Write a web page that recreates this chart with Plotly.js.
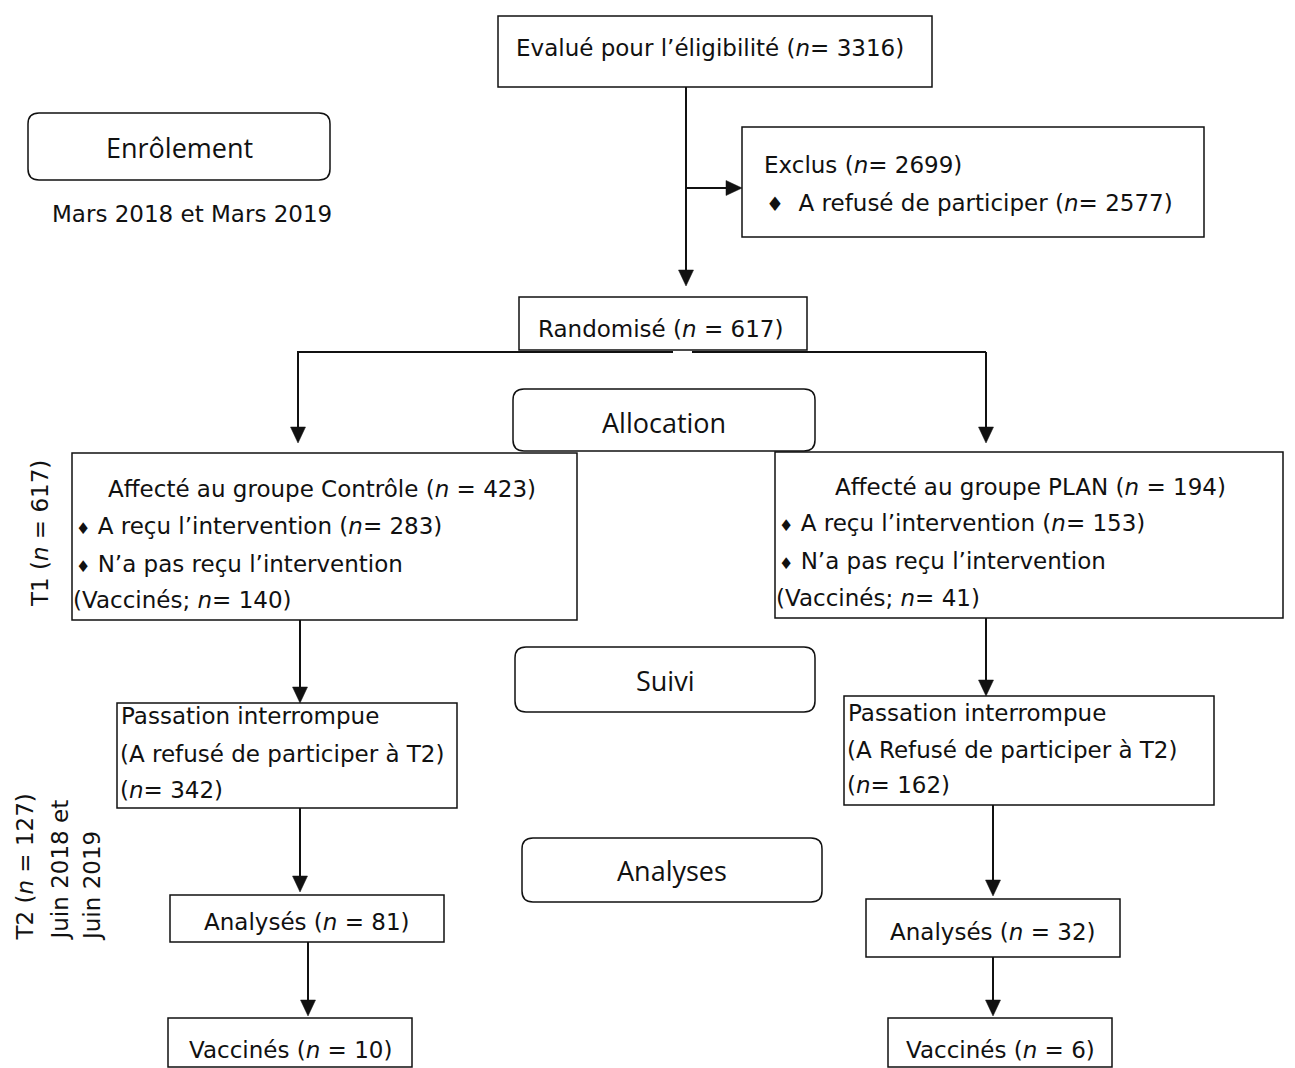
<!DOCTYPE html>
<html><head><meta charset="utf-8">
<script src="https://cdn.plot.ly/plotly-3.0.1.min.js"></script>
<style>html,body{margin:0;padding:0;background:#fff}</style>
</head><body><div id="chart" style="width:1295px;height:1068px"></div>
<script>
// ---------------- data ----------------
const stageLabels = ["Enrôlement", "Allocation", "Suivi", "Analyses"];
const enrolmentPeriod = "Mars 2018 et Mars 2019";
const eligibleN = 3316;
const excludedN = 2699;
const refusedN = 2577;
const randomisedN = 617;
const groupNames = ["Contrôle", "PLAN"];
const allocatedN = [423, 194];
const receivedN = [283, 153];
const vaccinatedT1N = [140, 41];
const droppedN = [342, 162];
const refusedT2Labels = ["(A refusé de participer à T2)", "(A Refusé de participer à T2)"];
const analysedN = [81, 32];
const vaccinatedT2N = [10, 6];
const timepointLabels = ["T1", "T2"];
const timepointN = [617, 127];
const followUpPeriod = ["Juin 2018 et", "Juin 2019"];

// ---------------- layout geometry (pixel space) ----------------
const W = 1295, H = 1068;
const FONT = "DejaVu Sans, Arial, sans-serif";
const FONT2 = "Open Sans, Noto Sans, sans-serif";
const FS = 23;
const INK = "#111";
const geo = {
  eligible: [498, 932, 16, 87],
  excluded: [742, 1204, 127, 237],
  randomised: [519, 807, 297, 350],
  alloc: [[72, 577, 453, 620], [775, 1283, 452, 618]],
  drop: [[117, 457, 703, 808], [844, 1214, 696, 805]],
  anal: [[170, 444, 895, 942], [866, 1120, 899, 957]],
  vacc: [[168, 412, 1018, 1067], [888, 1112, 1018, 1067]],
  stages: [[28, 330, 113, 180], [513, 815, 389, 451], [515, 815, 647, 712], [522, 822, 838, 902]]
};

const shapes = [];
const annotations = [];
const it = '<i>n</i>';
const dia = (s) => '<span style="font-size:' + s + 'px">\u2666</span>';

function rect(b, lw) {
  shapes.push({type: 'rect', xref: 'x', yref: 'y', x0: b[0], x1: b[1], y0: b[2], y1: b[3],
    line: {color: INK, width: lw || 1.5}, fillcolor: 'rgba(255,255,255,0)'});
}
function rrect(b, r) {
  const [x0, x1, y0, y1] = b;
  const p = `M${x0 + r},${y0} H${x1 - r} Q${x1},${y0} ${x1},${y0 + r} V${y1 - r} Q${x1},${y1} ${x1 - r},${y1} H${x0 + r} Q${x0},${y1} ${x0},${y1 - r} V${y0 + r} Q${x0},${y0} ${x0 + r},${y0} Z`;
  shapes.push({type: 'path', xref: 'x', yref: 'y', path: p, line: {color: INK, width: 1.5}, fillcolor: '#fff'});
}
function seg(x0, y0, x1, y1) {
  shapes.push({type: 'line', xref: 'x', yref: 'y', x0, y0, x1, y1, line: {color: INK, width: 2}});
}
function arrow(x0, y0, x1, y1) {
  const L = 16, hw = 7.5;
  const dx = x1 - x0, dy = y1 - y0, d = Math.hypot(dx, dy);
  const ux = dx / d, uy = dy / d, px = -uy, py = ux;
  const bx = x1 - ux * L, by = y1 - uy * L;
  seg(x0, y0, bx + ux * 2, by + uy * 2);
  const p = `M${bx + px * hw},${by + py * hw} L${bx - px * hw},${by - py * hw} L${x1},${y1} Z`;
  shapes.push({type: 'path', xref: 'x', yref: 'y', path: p, line: {color: INK, width: 0.5}, fillcolor: INK});
}
function txt(x, y, text, o) {
  o = o || {};
  annotations.push({x, y, xref: 'x', yref: 'y', text, showarrow: false,
    xanchor: o.xa || 'center', yanchor: o.ya || 'middle', textangle: o.angle || 0,
    align: o.align || 'center',
    font: {family: o.family || FONT, size: o.size || FS, color: INK}});
}

// ---------------- boxes ----------------
rect(geo.eligible);
rect(geo.excluded);
rect(geo.randomised);
[0, 1].forEach(g => { rect(geo.alloc[g]); rect(geo.drop[g]); rect(geo.anal[g]); rect(geo.vacc[g]); });

// ---------------- connectors ----------------
arrow(686, 87, 686, 286);
arrow(686, 188, 742, 188);
seg(297, 352, 673, 352);
seg(692, 352, 986, 352);
arrow(298, 352, 298, 443);
arrow(986, 352, 986, 443);
arrow(300, 620, 300, 703);
arrow(986, 618, 986, 696);
arrow(300, 808, 300, 892);
arrow(993, 805, 993, 896);
arrow(308, 942, 308, 1016);
arrow(993, 957, 993, 1016);

// stage rounded boxes (drawn after connectors so they sit on top)
geo.stages.forEach(b => rrect(b, 11));

// ---------------- texts ----------------
txt(710, 48, 'Evalué pour l\u2019éligibilité (' + it + '= ' + eligibleN + ')');
txt(762, 165, 'Exclus (' + it + '= ' + excludedN + ')', {xa: 'left'});
txt(764, 203, dia(20) + '  A refusé de participer (' + it + '= ' + refusedN + ')', {xa: 'left'});
txt(660, 329, 'Randomisé (' + it + ' = ' + randomisedN + ')');

const allocCx = [322, 1030];
const allocLines = [[489, 526, 564, 600], [487, 523, 561, 598]];
[0, 1].forEach(g => {
  const b = geo.alloc[g], ly = allocLines[g];
  txt(allocCx[g], ly[0], 'Affecté au groupe ' + groupNames[g] + ' (' + it + ' = ' + allocatedN[g] + ')');
  txt(b[0] + 2, ly[1], dia(16) + ' A reçu l\u2019intervention (' + it + '= ' + receivedN[g] + ')', {xa: 'left'});
  txt(b[0] + 2, ly[2], dia(16) + ' N\u2019a pas reçu l\u2019intervention', {xa: 'left'});
  txt(b[0] - 1, ly[3], '(Vaccinés; ' + it + '= ' + vaccinatedT1N[g] + ')', {xa: 'left'});
});

const dropLines = [[716, 754, 790], [713, 750, 785]];
[0, 1].forEach(g => {
  const b = geo.drop[g], ly = dropLines[g];
  txt(b[0] + 2, ly[0], 'Passation interrompue', {xa: 'left'});
  txt(b[0] + 1, ly[1], refusedT2Labels[g], {xa: 'left'});
  txt(b[0] + 1, ly[2], '(' + it + '= ' + droppedN[g] + ')', {xa: 'left'});
});

const analC = [[307, 922], [993, 932]];
const vaccC = [[290, 1050], [1000, 1050]];
[0, 1].forEach(g => {
  txt(analC[g][0], analC[g][1], 'Analysés (' + it + ' = ' + analysedN[g] + ')');
  txt(vaccC[g][0], vaccC[g][1], 'Vaccinés (' + it + ' = ' + vaccinatedT2N[g] + ')');
});

const stageC = [[179, 147], [664, 422], [665, 680], [672, 870]];
stageLabels.forEach((s, i) => txt(stageC[i][0], stageC[i][1], s, {family: FONT2, size: 27}));

txt(192, 214, enrolmentPeriod);
txt(40, 534, timepointLabels[0] + ' (' + it + ' = ' + timepointN[0] + ')', {angle: -90});
txt(24, 943, timepointLabels[1] + ' (' + it + ' = ' + timepointN[1] + ')', {angle: -90, ya: 'bottom'});
txt(59, 943, followUpPeriod[0], {angle: -90, ya: 'bottom'});
txt(92, 943, followUpPeriod[1], {angle: -90, ya: 'bottom'});

const layout = {
  width: W, height: H,
  margin: {l: 0, r: 0, t: 0, b: 0, pad: 0},
  paper_bgcolor: '#fff', plot_bgcolor: '#fff',
  xaxis: {range: [0, W], visible: false, fixedrange: true},
  yaxis: {range: [H, 0], visible: false, fixedrange: true},
  showlegend: false,
  shapes, annotations
};
Plotly.newPlot('chart', [], layout, {staticPlot: true, displayModeBar: false});
</script>
</body></html>
